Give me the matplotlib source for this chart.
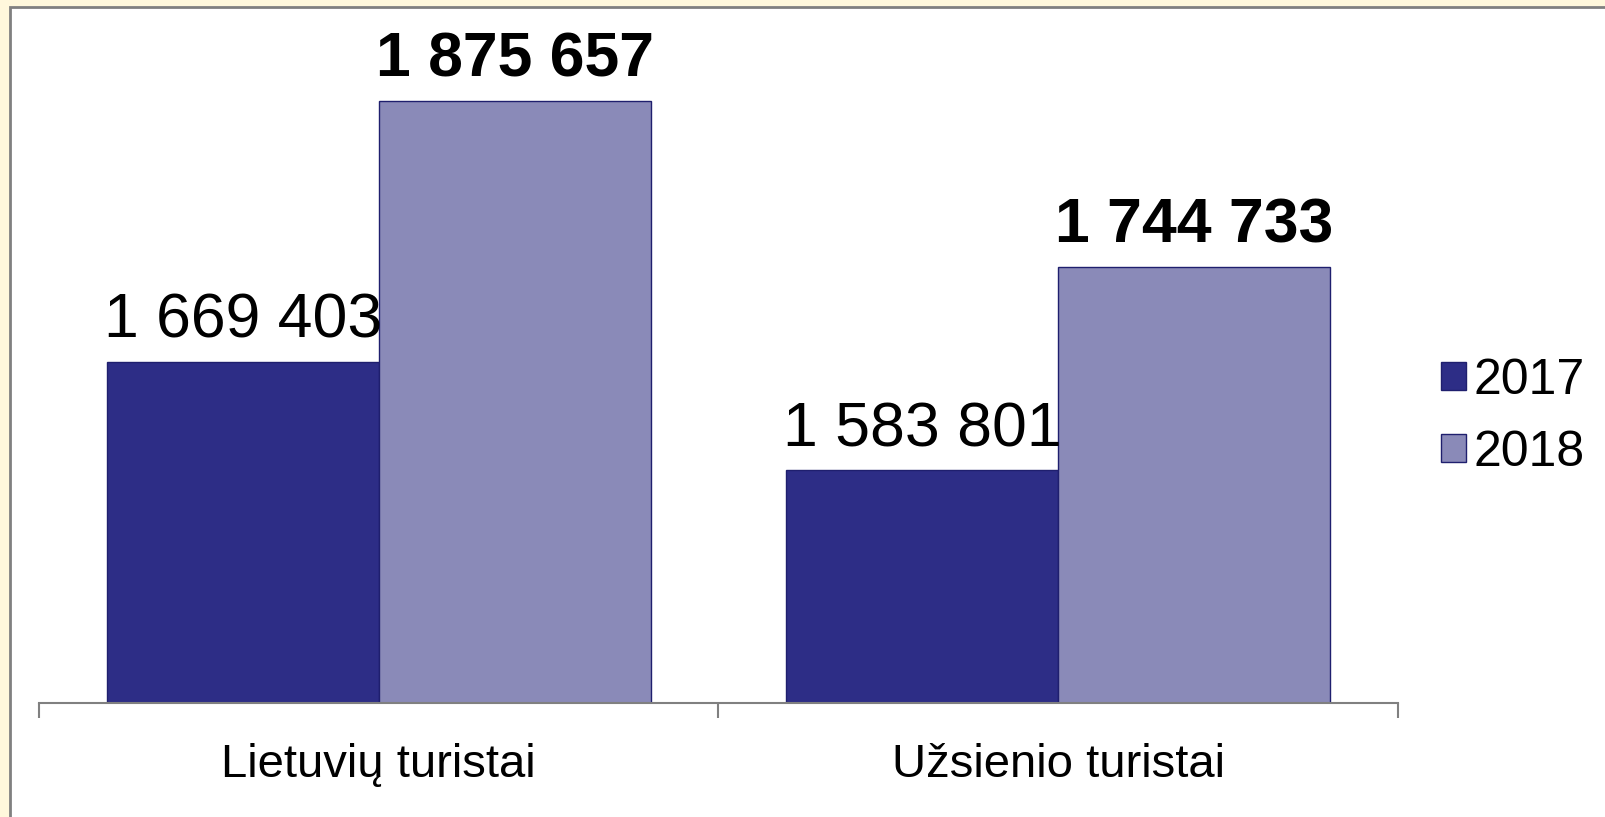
import matplotlib
matplotlib.use("Agg")
import matplotlib.pyplot as plt
from matplotlib.patches import Rectangle, Patch
import numpy as np

categories = ["Lietuvių turistai", "Užsienio turistai"]
series_names = ["2017", "2018"]
values_2017 = [1669403, 1583801]
values_2018 = [1875657, 1744733]
label_2017 = ["1 669 403", "1 583 801"]
label_2018 = ["1 875 657", "1 744 733"]

W, H = 1606, 817
plt.rcParams['font.family'] = ['Liberation Sans', 'DejaVu Sans']
fig = plt.figure(figsize=(W / 100, H / 100), dpi=100)
fig.patch.set_facecolor('#FFF8DC')

# white panel with grey border on top/left
panel = Rectangle((10 / W, -0.01), 1 - 10 / W + 0.01, 1 - 7 / H + 0.01, transform=fig.transFigure,
                  facecolor='white', edgecolor='#808080', linewidth=2, zorder=-10)
fig.patches.append(panel)

def fx(px):
    return px / W

def fy(py):
    return 1 - py / H

ax_left, ax_right, ax_bottom, ax_top = 39, 1398, 703, 7
ax = fig.add_axes([fx(ax_left), fy(ax_bottom), fx(ax_right - ax_left), (ax_bottom - ax_top) / H])
ax.set_facecolor('none')
ax.set_zorder(2)

c2017 = '#2D2D86'
c2018 = '#8A8AB8'
edge = '#1F1F6E'
x = np.arange(len(categories))
w = 0.4
ax.bar(x - w / 2, values_2017, width=w, color=c2017, edgecolor=edge, linewidth=1, zorder=2)
ax.bar(x + w / 2, values_2018, width=w, color=c2018, edgecolor=edge, linewidth=1, zorder=2)

ax.set_xlim(-0.5, 1.5)
ax.set_ylim(1400000, 1950000)

for xi, v, t in zip(x - w / 2, values_2017, label_2017):
    ax.annotate(t, (xi, v), xytext=(0, 8), textcoords='offset points', ha='center', va='bottom',
                fontsize=45, color='black', annotation_clip=False)
for xi, v, t in zip(x + w / 2, values_2018, label_2018):
    ax.annotate(t, (xi, v), xytext=(0, 8), textcoords='offset points', ha='center', va='bottom',
                fontsize=45, fontweight='bold', color='black', annotation_clip=False)

for s in ['top', 'right', 'left']:
    ax.spines[s].set_visible(False)
ax.spines['bottom'].set_color('#808080')
ax.spines['bottom'].set_linewidth(1.5)
ax.set_yticks([])
ax.set_xticks(x)
ax.set_xticklabels(categories, fontsize=34)
ax.tick_params(axis='x', which='major', length=0, pad=29)
ax.set_xticks([-0.5, 0.5, 1.5], minor=True)
ax.tick_params(axis='x', which='minor', length=11, width=1.5, color='#808080', direction='out')

handles = [Patch(facecolor=c2017, edgecolor=edge, linewidth=1),
           Patch(facecolor=c2018, edgecolor=edge, linewidth=1)]
fig.legend(handles, series_names, loc='center left', bbox_to_anchor=(fx(1441), fy(417)),
           frameon=False, fontsize=36, handlelength=0.5, handleheight=0.5,
           handletextpad=0.16, labelspacing=0.52, borderpad=0, borderaxespad=0)

fig.savefig('out.png', dpi=100, facecolor=fig.get_facecolor())
